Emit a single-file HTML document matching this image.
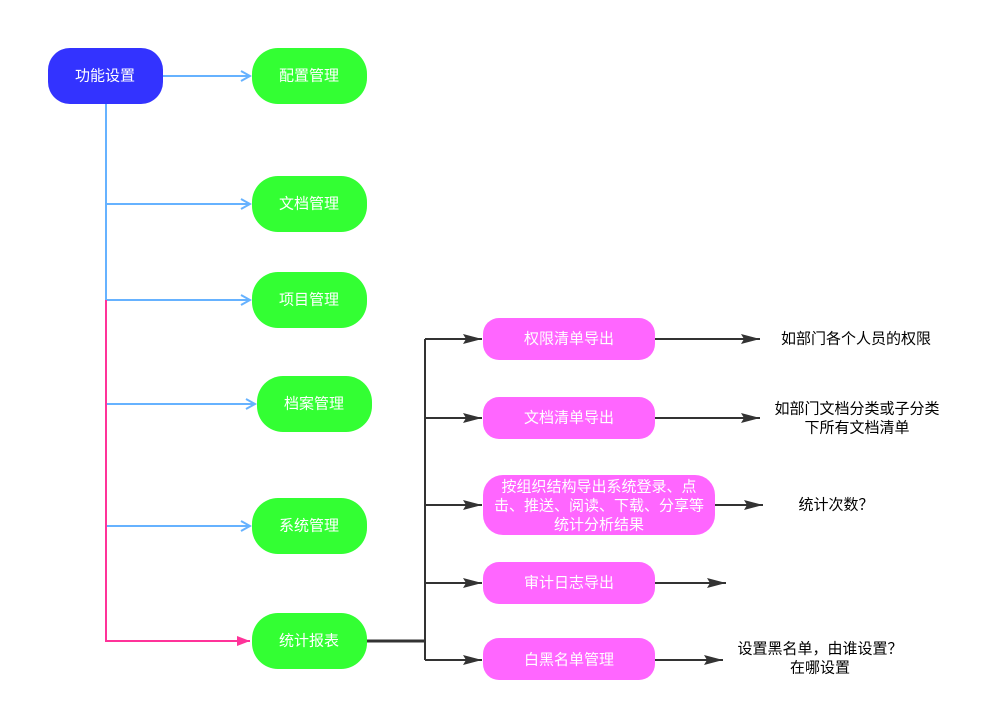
<!DOCTYPE html>
<html><head><meta charset="utf-8"><style>
html,body{margin:0;padding:0;background:#fff;}
svg{display:block;}
text{font-family:"Liberation Sans","Noto Sans CJK SC",sans-serif;font-size:15px;}
.w{fill:#fff;text-anchor:middle;dominant-baseline:central;}
.k{fill:#000;text-anchor:middle;dominant-baseline:central;}
</style></head><body>
<svg width="984" height="712" viewBox="0 0 984 712" xmlns="http://www.w3.org/2000/svg">
<defs>
<marker id="ob" markerWidth="12" markerHeight="12" refX="10" refY="6" orient="auto" markerUnits="userSpaceOnUse"><path d="M1,1 L10,6 L1,11" fill="none" stroke="#66b2ff" stroke-width="2"/></marker>
<marker id="rp" markerWidth="14" markerHeight="12" refX="13" refY="6" orient="auto" markerUnits="userSpaceOnUse"><path d="M0,1 L13,6 L0,11 Z" fill="#ff3399"/></marker>
<marker id="fk" markerWidth="20" markerHeight="12" refX="19" refY="6" orient="auto" markerUnits="userSpaceOnUse"><path d="M0,1 L19,6 L0,11 L3,6 Z" fill="#333"/></marker>
</defs>
<g fill="none" stroke-width="2">
<path d="M163,76 H250" stroke="#66b2ff" marker-end="url(#ob)"/>
<path d="M106,104 V300" stroke="#66b2ff"/>
<path d="M106,204 H250" stroke="#66b2ff" marker-end="url(#ob)"/>
<path d="M106,300 H250" stroke="#66b2ff" marker-end="url(#ob)"/>
<path d="M106,404 H255" stroke="#66b2ff" marker-end="url(#ob)"/>
<path d="M106,526 H250" stroke="#66b2ff" marker-end="url(#ob)"/>
<path d="M106,300 V641 H250" stroke="#ff3399" marker-end="url(#rp)"/>
<path d="M367,641 H425" stroke="#333" stroke-width="3"/>
<path d="M425,339 V660" stroke="#333"/>
<path d="M425,339 H482" stroke="#333" marker-end="url(#fk)"/>
<path d="M425,418 H482" stroke="#333" marker-end="url(#fk)"/>
<path d="M425,505 H482" stroke="#333" marker-end="url(#fk)"/>
<path d="M425,583 H482" stroke="#333" marker-end="url(#fk)"/>
<path d="M425,660 H482" stroke="#333" marker-end="url(#fk)"/>
<path d="M655,339 H760" stroke="#333" marker-end="url(#fk)"/>
<path d="M655,418 H760" stroke="#333" marker-end="url(#fk)"/>
<path d="M715,505 H763" stroke="#333" marker-end="url(#fk)"/>
<path d="M655,583 H726" stroke="#333" marker-end="url(#fk)"/>
<path d="M655,660 H723" stroke="#333" marker-end="url(#fk)"/>
</g>
<rect x="48" y="48" width="115" height="56" rx="22" fill="#3333ff"/>
<text class="w" x="105" y="76">功能设置</text>
<g fill="#33ff33">
<rect x="252" y="48" width="115" height="56" rx="26"/>
<rect x="252" y="176" width="115" height="56" rx="26"/>
<rect x="252" y="272" width="115" height="56" rx="26"/>
<rect x="257" y="376" width="115" height="56" rx="26"/>
<rect x="252" y="498" width="115" height="56" rx="26"/>
<rect x="252" y="613" width="115" height="56" rx="26"/>
</g>
<text class="w" x="309" y="76">配置管理</text>
<text class="w" x="309" y="204">文档管理</text>
<text class="w" x="309" y="300">项目管理</text>
<text class="w" x="314" y="404">档案管理</text>
<text class="w" x="309" y="526">系统管理</text>
<text class="w" x="309" y="641">统计报表</text>
<g fill="#ff66ff">
<rect x="483" y="318" width="172" height="42" rx="16"/>
<rect x="483" y="397" width="172" height="42" rx="16"/>
<rect x="483" y="475" width="232" height="60" rx="20"/>
<rect x="483" y="562" width="172" height="42" rx="16"/>
<rect x="483" y="638" width="172" height="42" rx="16"/>
</g>
<text class="w" x="569" y="339">权限清单导出</text>
<text class="w" x="569" y="418">文档清单导出</text>
<text class="w" x="599" y="487">按组织结构导出系统登录、点</text>
<text class="w" x="599" y="506">击、推送、阅读、下载、分享等</text>
<text class="w" x="599" y="525">统计分析结果</text>
<text class="w" x="569" y="583">审计日志导出</text>
<text class="w" x="569" y="660">白黑名单管理</text>
<text class="k" x="856" y="339">如部门各个人员的权限</text>
<text class="k" x="857" y="409">如部门文档分类或子分类</text>
<text class="k" x="857" y="428">下所有文档清单</text>
<text class="k" x="836" y="505">统计次数？</text>
<text class="k" x="820" y="649">设置黑名单，由谁设置？</text>
<text class="k" x="820" y="668">在哪设置</text>
</svg>
</body></html>
